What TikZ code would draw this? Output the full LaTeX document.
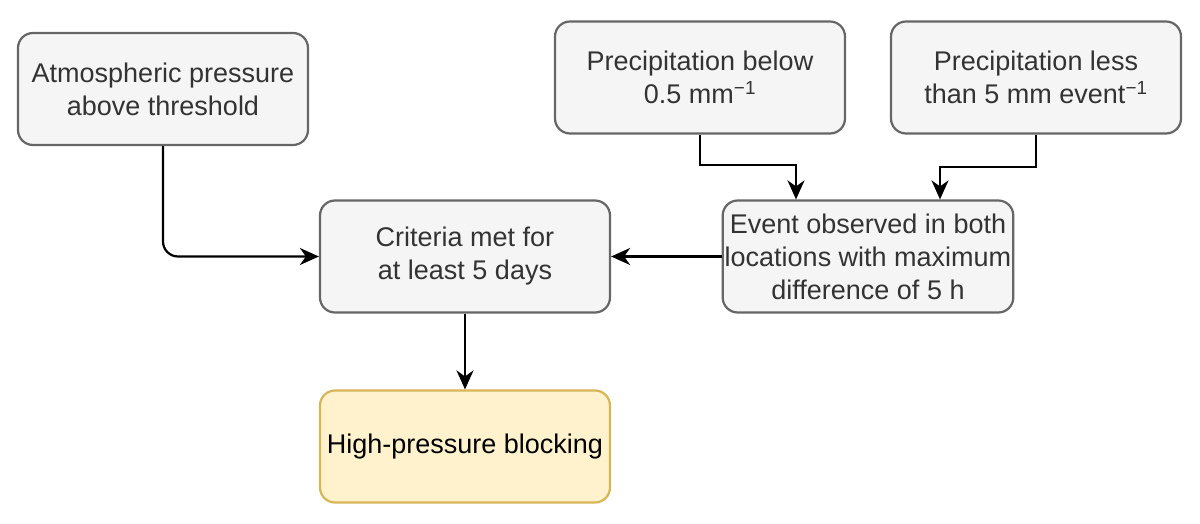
\documentclass[tikz,border=0pt]{standalone}
\usepackage{fontspec}
\setmainfont{Liberation Sans}
\usetikzlibrary{arrows.meta}
\definecolor{boxfill}{HTML}{F5F5F5}
\definecolor{boxline}{HTML}{666666}
\definecolor{boxtext}{HTML}{333333}
\definecolor{yfill}{HTML}{FFF2CC}
\definecolor{yline}{HTML}{D6B656}
\tikzset{
  x=1pt, y=-1pt,
  box/.style={draw=boxline, fill=boxfill, text=boxtext, line width=2.2pt, rounded corners=15pt,
    minimum width=290pt, minimum height=112pt, align=center, inner sep=2pt,
    font=\fontsize{27}{33}\selectfont},
  goal/.style={box, draw=yline, fill=yfill, text=black},
  conn/.style={line width=2.2pt, draw=black, -{Stealth[length=19pt,width=17pt,inset=6pt]}}
}
\newcommand{\supm}{\textsuperscript{\char"2212 1}}
\begin{document}
\begin{tikzpicture}
\useasboundingbox (0,0) rectangle (1200,524);
\node[box] (A) at (163,89) {Atmospheric pressure\\above threshold};
\node[box] (B) at (700,77.5) {Precipitation below\\0.5 mm\supm};
\node[box] (C) at (1036,77.5) {Precipitation less\\than 5 mm event\supm};
\node[box] (D) at (465,256.5) {Criteria met for\\at least 5 days};
\node[box] (E) at (868,256.5) {Event observed in both\\locations with maximum\\difference of 5 h};
\node[goal] (F) at (465,446.5) {High-pressure blocking};
\coordinate (b1) at (700,165);
\coordinate (b2) at (796,165);
\coordinate (c1) at (1036,167);
\coordinate (c2) at (940,167);
\draw[conn] (B.south) -- (b1) -- (b2) -- (b2 |- E.north);
\draw[conn] (C.south) -- (c1) -- (c2) -- (c2 |- E.north);
\draw[conn, rounded corners=15pt] (A.south) |- (D.west);
\draw[conn] (E.west) -- (D.east);
\draw[conn] (D.south) -- (F.north);
\end{tikzpicture}
\end{document}
